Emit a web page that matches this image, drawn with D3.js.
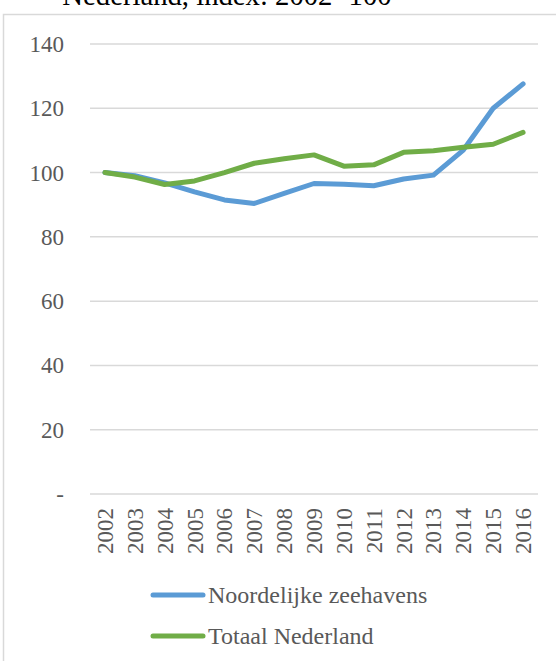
<!DOCTYPE html>
<html>
<head>
<meta charset="utf-8">
<script src="https://cdn.jsdelivr.net/npm/d3@7"></script>
<style>
  body { margin: 0; background: #fff; }
</style>
</head>
<body>
<svg id="graph" width="556" height="661"></svg>
<script>
const years = ["2002","2003","2004","2005","2006","2007","2008","2009","2010","2011","2012","2013","2014","2015","2016"];
const noordelijk = [100, 99, 96.8, 94, 91.5, 90.4, 93.5, 96.6, 96.4, 95.9, 98, 99.2, 107, 120, 127.6];
const totaal = [100, 98.6, 96.3, 97.4, 100, 102.9, 104.3, 105.5, 102, 102.4, 106.3, 106.8, 107.9, 108.8, 112.5];
const yTicks = [0, 20, 40, 60, 80, 100, 120, 140];
const seriesNames = ["Noordelijke zeehavens", "Totaal Nederland"];
const colors = ["#5b9bd5", "#70ad47"];

const serif = "'Liberation Serif', 'Times New Roman', 'DejaVu Serif', serif";

const svg = d3.select("#graph")
    .style("font-family", serif);

// chart border
svg.append("rect")
    .attr("x", 3.5).attr("y", 14.5)
    .attr("width", 600).attr("height", 700)
    .attr("fill", "none")
    .attr("stroke", "#d9d9d9")
    .attr("stroke-width", 1.5);

// title (mostly cut off at the top)
svg.append("text")
    .attr("x", 227).attr("y", 5)
    .attr("text-anchor", "middle")
    .style("font-family", serif)
    .style("font-size", "28.7px")
    .attr("fill", "#000")
    .text("Nederland, index: 2002=100");

const x = d3.scaleBand().domain(years).range([90, 538]);
const y = d3.scaleLinear().domain([0, 140]).range([494, 44]);

// gridlines
svg.append("g")
    .selectAll("line")
    .data(yTicks)
    .enter().append("line")
        .attr("x1", 90).attr("x2", 538)
        .attr("y1", d => y(d)).attr("y2", d => y(d))
        .attr("stroke", "#d9d9d9")
        .attr("stroke-width", 1.5);

// y labels
svg.append("g")
    .selectAll("text")
    .data(yTicks)
    .enter().append("text")
        .attr("x", 64)
        .attr("y", d => y(d))
        .attr("dy", "0.35em")
        .attr("text-anchor", "end")
        .attr("fill", "#595959")
        .style("font-family", serif)
        .style("font-size", "23px")
        .text(d => d === 0 ? "-" : d);

// x labels
svg.append("g")
    .selectAll("text")
    .data(years)
    .enter().append("text")
        .attr("transform", d => `translate(${x(d) + x.bandwidth() / 2 + 8},508) rotate(-90)`)
        .attr("text-anchor", "end")
        .attr("fill", "#595959")
        .style("font-family", serif)
        .style("font-size", "23px")
        .text(d => d);

const line = d3.line()
    .x((d, i) => x(years[i]) + x.bandwidth() / 2)
    .y(d => y(d));

[noordelijk, totaal].forEach((s, i) => {
    svg.append("path")
        .datum(s)
        .attr("d", line)
        .attr("fill", "none")
        .attr("stroke", colors[i])
        .attr("stroke-width", 5)
        .attr("stroke-linecap", "round")
        .attr("stroke-linejoin", "round");
});

// legend
const legend = svg.append("g");
seriesNames.forEach((name, i) => {
    const ly = 595 + i * 41;
    legend.append("line")
        .attr("x1", 153).attr("x2", 203)
        .attr("y1", ly).attr("y2", ly)
        .attr("stroke", colors[i])
        .attr("stroke-width", 5)
        .attr("stroke-linecap", "round");
    legend.append("text")
        .attr("x", 208)
        .attr("y", ly)
        .attr("dy", "0.35em")
        .attr("fill", "#595959")
        .style("font-family", serif)
        .style("font-size", "24px")
        .text(name);
});
</script>
</body>
</html>
